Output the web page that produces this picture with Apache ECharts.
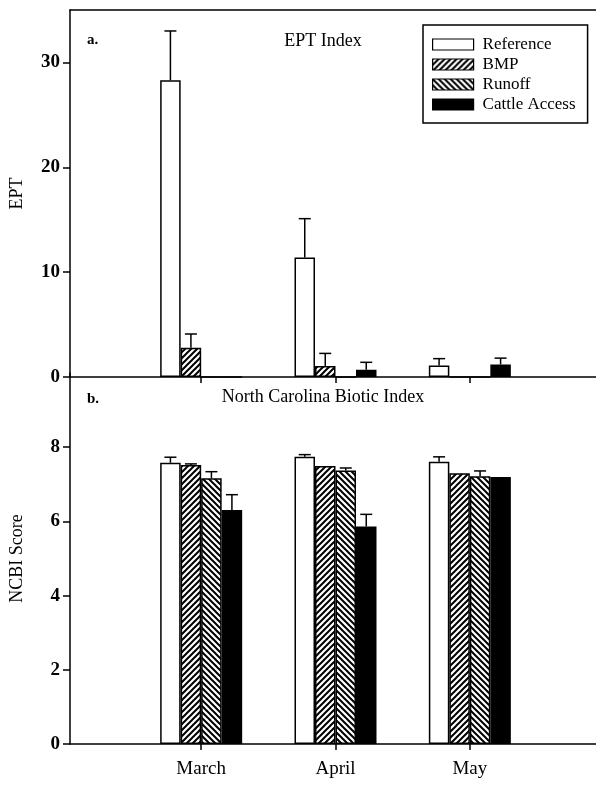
<!DOCTYPE html>
<html>
<head>
<meta charset="utf-8">
<script src="https://cdn.jsdelivr.net/npm/echarts@6/dist/echarts.min.js"></script>
<style>
  html, body { margin: 0; padding: 0; background: #fff; }
  #chart { width: 596px; height: 787px; }
</style>
</head>
<body>
<div id="chart"></div>
<script>
var months = ['March', 'April', 'May']
var treatments = ['Reference', 'BMP', 'Runoff', 'Cattle Access']

// a. EPT index (mean, standard error)
var eptRef = [28.3, 11.4, 1.1]
var eptRefSe = [4.7, 3.7, 0.65]
var eptBmp = [2.8, 1.05, 0]
var eptBmpSe = [1.3, 1.2, 0]
var eptRunoff = [0, 0, 0]
var eptRunoffSe = [0, 0, 0]
var eptCattle = [0, 0.7, 1.2]
var eptCattleSe = [0, 0.7, 0.6]

// b. NCBI score (mean, standard error)
var ncbiRef = [7.58, 7.74, 7.61]
var ncbiRefSe = [0.15, 0.06, 0.13]
var ncbiBmp = [7.52, 7.49, 7.30]
var ncbiBmpSe = [0.03, 0, 0]
var ncbiRunoff = [7.16, 7.37, 7.22]
var ncbiRunoffSe = [0.18, 0.07, 0.14]
var ncbiCattle = [6.31, 5.86, 7.20]
var ncbiCattleSe = [0.41, 0.33, 0]

var eptTicks = [0, 10, 20, 30]
var ncbiTicks = [0, 2, 4, 6, 8]

var FONT = 'Liberation Serif'
var BAR_W = 20.5

function hatch(dir) {
  var s = 6
  var c = document.createElement('canvas')
  c.width = s
  c.height = s
  var ctx = c.getContext('2d')
  ctx.fillStyle = '#fff'
  ctx.fillRect(0, 0, s, s)
  ctx.strokeStyle = '#000'
  ctx.lineWidth = 2
  ctx.beginPath()
  if (dir === 'up') {
    ctx.moveTo(-1, 1); ctx.lineTo(1, -1)
    ctx.moveTo(0, s); ctx.lineTo(s, 0)
    ctx.moveTo(s - 1, s + 1); ctx.lineTo(s + 1, s - 1)
  } else {
    ctx.moveTo(-1, s - 1); ctx.lineTo(1, s + 1)
    ctx.moveTo(0, 0); ctx.lineTo(s, s)
    ctx.moveTo(s - 1, -1); ctx.lineTo(s + 1, 1)
  }
  ctx.stroke()
  return { image: c, repeat: 'repeat' }
}

var fills = ['#fff', hatch('up'), hatch('down'), '#000']

function barSeries(name, data, xi, yi) {
  var k = treatments.indexOf(name)
  return {
    name: name,
    type: 'bar',
    xAxisIndex: xi,
    yAxisIndex: yi,
    data: data,
    barWidth: BAR_W,
    barGap: '0%',
    itemStyle: { color: fills[k], borderColor: '#000', borderWidth: 1.5 },
    silent: true,
    animation: false
  }
}

function errSeries(k, means, ses, xi, yi) {
  var rows = []
  for (var i = 0; i < means.length; i++) {
    if (ses[i] > 0) rows.push([i, means[i], means[i] + ses[i]])
  }
  return {
    type: 'custom',
    name: 'err' + yi + k,
    xAxisIndex: xi,
    yAxisIndex: yi,
    data: rows,
    z: 3,
    silent: true,
    animation: false,
    renderItem: function (params, api) {
      var lo = api.coord([api.value(0), api.value(1)])
      var hi = api.coord([api.value(0), api.value(2)])
      var x = lo[0] + (k - 1.5) * BAR_W
      var style = { stroke: '#000', lineWidth: 1.5 }
      return {
        type: 'group',
        children: [
          { type: 'line', shape: { x1: x, y1: lo[1], x2: x, y2: hi[1] }, style: style },
          { type: 'line', shape: { x1: x - 6, y1: hi[1], x2: x + 6, y2: hi[1] }, style: style }
        ]
      }
    }
  }
}

function frameX(gridIdx, pos) {
  return {
    type: 'value', gridIndex: gridIdx, position: pos, min: 0, max: 1,
    axisLine: { show: true, lineStyle: { color: '#000', width: 1.5 } },
    axisTick: { show: false }, axisLabel: { show: false }, splitLine: { show: false }
  }
}

function barsX(gridIdx) {
  return {
    type: 'category', gridIndex: gridIdx, data: months,
    axisLine: { show: false },
    axisTick: { show: true, alignWithLabel: true, length: 6, lineStyle: { color: '#000', width: 1.5 } },
    axisLabel: { show: gridIdx === 3, margin: 16, color: '#000', fontFamily: FONT, fontSize: 19 },
    splitLine: { show: false }
  }
}

function hiddenY(gridIdx, max) {
  return {
    type: 'value', gridIndex: gridIdx, min: 0, max: max, show: false, splitLine: { show: false }
  }
}

function frameY(gridIdx, max, ticks, name) {
  return {
    type: 'value', gridIndex: gridIdx, min: 0, max: max,
    name: name, nameLocation: 'middle', nameGap: 44, nameRotate: 90,
    nameTextStyle: { color: '#000', fontFamily: FONT, fontSize: 18 },
    axisLine: { show: true, lineStyle: { color: '#000', width: 1.5 } },
    axisTick: { show: true, inside: false, length: 7, customValues: ticks, lineStyle: { color: '#000', width: 1.5 } },
    axisLabel: { customValues: ticks, margin: 10, color: '#000', fontFamily: FONT, fontWeight: 'bold', fontSize: 19 },
    splitLine: { show: false }
  }
}

var chart = echarts.init(document.getElementById('chart'), null, { renderer: 'canvas' })

chart.setOption({
  backgroundColor: '#fff',
  animation: false,
  title: [
    { text: 'a.', left: 82, top: 28, textStyle: { fontFamily: FONT, fontSize: 15, fontWeight: 'bold', color: '#000' } },
    { text: 'EPT Index', left: 318, top: 27, textAlign: 'center', textStyle: { fontFamily: FONT, fontSize: 18, fontWeight: 'normal', color: '#000' } },
    { text: 'b.', left: 82, top: 387, textStyle: { fontFamily: FONT, fontSize: 15, fontWeight: 'bold', color: '#000' } },
    { text: 'North Carolina Biotic Index', left: 318, top: 383, textAlign: 'center', textStyle: { fontFamily: FONT, fontSize: 18, fontWeight: 'normal', color: '#000' } }
  ],
  legend: {
    data: treatments,
    orient: 'vertical',
    left: 423,
    top: 25,
    itemWidth: 41,
    itemHeight: 11,
    itemGap: 3,
    padding: [11, 12, 10, 9],
    borderColor: '#000',
    borderWidth: 1.5,
    selectedMode: false,
    icon: 'rect',
    itemStyle: { borderColor: '#000', borderWidth: 1.2 },
    textStyle: { fontFamily: FONT, fontSize: 17, color: '#000', padding: [0, 0, 0, 4] }
  },
  grid: [
    { left: 70, right: 0, top: 10, height: 367 },
    { left: 134, width: 403, top: 10, height: 367 },
    { left: 70, right: 0, top: 373, height: 371 },
    { left: 134, width: 403, top: 373, height: 371 }
  ],
  xAxis: [
    frameX(0, 'bottom'),
    frameX(0, 'top'),
    barsX(1),
    frameX(2, 'bottom'),
    barsX(3)
  ],
  yAxis: [
    frameY(0, 35, eptTicks, 'EPT'),
    hiddenY(1, 35),
    frameY(2, 10, ncbiTicks, 'NCBI Score'),
    hiddenY(3, 10)
  ],
  series: [
    barSeries('Reference', eptRef, 2, 1),
    barSeries('BMP', eptBmp, 2, 1),
    barSeries('Runoff', eptRunoff, 2, 1),
    barSeries('Cattle Access', eptCattle, 2, 1),
    errSeries(0, eptRef, eptRefSe, 2, 1),
    errSeries(1, eptBmp, eptBmpSe, 2, 1),
    errSeries(2, eptRunoff, eptRunoffSe, 2, 1),
    errSeries(3, eptCattle, eptCattleSe, 2, 1),
    barSeries('Reference', ncbiRef, 4, 3),
    barSeries('BMP', ncbiBmp, 4, 3),
    barSeries('Runoff', ncbiRunoff, 4, 3),
    barSeries('Cattle Access', ncbiCattle, 4, 3),
    errSeries(0, ncbiRef, ncbiRefSe, 4, 3),
    errSeries(1, ncbiBmp, ncbiBmpSe, 4, 3),
    errSeries(2, ncbiRunoff, ncbiRunoffSe, 4, 3),
    errSeries(3, ncbiCattle, ncbiCattleSe, 4, 3)
  ]
})
</script>
</body>
</html>
